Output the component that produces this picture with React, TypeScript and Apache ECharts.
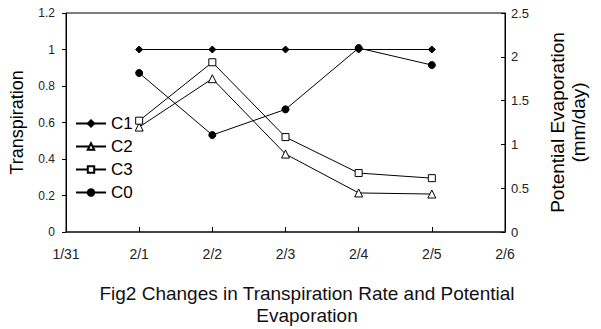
import React, { useEffect, useRef } from "react";
import * as echarts from "echarts";

const categories = ["1/31", "2/1", "2/2", "2/3", "2/4", "2/5", "2/6"];
const c1 = [null, 1, 1, 1, 1, 1, null];
const c2 = [null, 0.575, 0.84, 0.427, 0.214, 0.208, null];
const c3 = [null, 0.61, 0.93, 0.52, 0.323, 0.295, null];
const c0 = [null, 1.815, 1.107, 1.4, 2.1, 1.906, null];
const leftTicks = { min: 0, max: 1.2, interval: 0.2 };
const rightTicks = { min: 0, max: 2.5, interval: 0.5 };

const FONT = "Liberation Sans, Arial, sans-serif";

export default function App() {
  const ref = useRef<HTMLDivElement>(null);
  useEffect(() => {
    const chart = echarts.init(ref.current!, null, { renderer: "svg" });
    const lineBase = {
      type: "line" as const,
      lineStyle: { color: "#000", width: 1 },
      itemStyle: { color: "#000", borderColor: "#000", borderWidth: 1 },
      connectNulls: false,
    };
    chart.setOption({
      animation: false,
      backgroundColor: "#fff",
      textStyle: { fontFamily: FONT },
      title: {
        text: "Fig2 Changes in Transpiration Rate and Potential\nEvaporation",
        left: 302,
        top: 277,
        textAlign: "center",
        textStyle: { fontSize: 19, fontWeight: "normal", color: "#111", lineHeight: 22, fontFamily: FONT },
      },
      grid: {
        left: 65,
        right: 96,
        top: 13,
        bottom: 97,
        show: true,
        borderColor: "#000",
        borderWidth: 1,
      },
      legend: {
        orient: "vertical",
        left: 70,
        top: 110,
        itemGap: 6,
        itemWidth: 30,
        itemHeight: 8,
        textStyle: { fontSize: 17, color: "#000", fontFamily: FONT },
        data: ["C1", "C2", "C3", "C0"],
      },
      xAxis: {
        type: "category",
        data: categories,
        boundaryGap: false,
        axisLine: { lineStyle: { color: "#444", width: 2 } },
        axisTick: { inside: true, length: 5, lineStyle: { color: "#000" } },
        axisLabel: { fontSize: 14, color: "#222", margin: 15 },
        splitLine: { show: false },
      },
      yAxis: [
        {
          type: "value",
          ...leftTicks,
          name: "Transpiration",
          nameLocation: "middle",
          nameGap: 40,
          nameTextStyle: { fontSize: 18, color: "#000" },
          axisLine: { show: true, lineStyle: { color: "#000" } },
          axisTick: { show: true, inside: false, length: 4, lineStyle: { color: "#000" } },
          axisLabel: { fontSize: 12, color: "#222", margin: 11 },
          splitLine: { show: false },
        },
        {
          type: "value",
          ...rightTicks,
          name: "Potential Evaporation\n(mm/day)",
          nameLocation: "middle",
          nameGap: 42,
          nameRotate: 90,
          nameTextStyle: { fontSize: 19, color: "#000", lineHeight: 21 },
          axisLine: { show: true, lineStyle: { color: "#000" } },
          axisTick: { show: true, inside: true, length: 4, lineStyle: { color: "#000" } },
          axisLabel: { fontSize: 13, color: "#222", margin: 6 },
          splitLine: { show: false },
        },
      ],
      series: [
        { ...lineBase, name: "C1", data: c1, yAxisIndex: 0, symbol: "diamond", symbolSize: 7 },
        {
          ...lineBase,
          name: "C2",
          data: c2,
          yAxisIndex: 0,
          symbol: "triangle",
          symbolSize: 8,
          itemStyle: { color: "#fff", borderColor: "#000", borderWidth: 1 },
        },
        {
          ...lineBase,
          name: "C3",
          data: c3,
          yAxisIndex: 0,
          symbol: "rect",
          symbolSize: 7,
          itemStyle: { color: "#fff", borderColor: "#000", borderWidth: 1 },
        },
        { ...lineBase, name: "C0", data: c0, yAxisIndex: 1, symbol: "circle", symbolSize: 7 },
      ],
    });
    return () => chart.dispose();
  }, []);
  return <div ref={ref} style={{ width: 601, height: 329, position: "absolute", left: 0, top: 0 }} />;
}
